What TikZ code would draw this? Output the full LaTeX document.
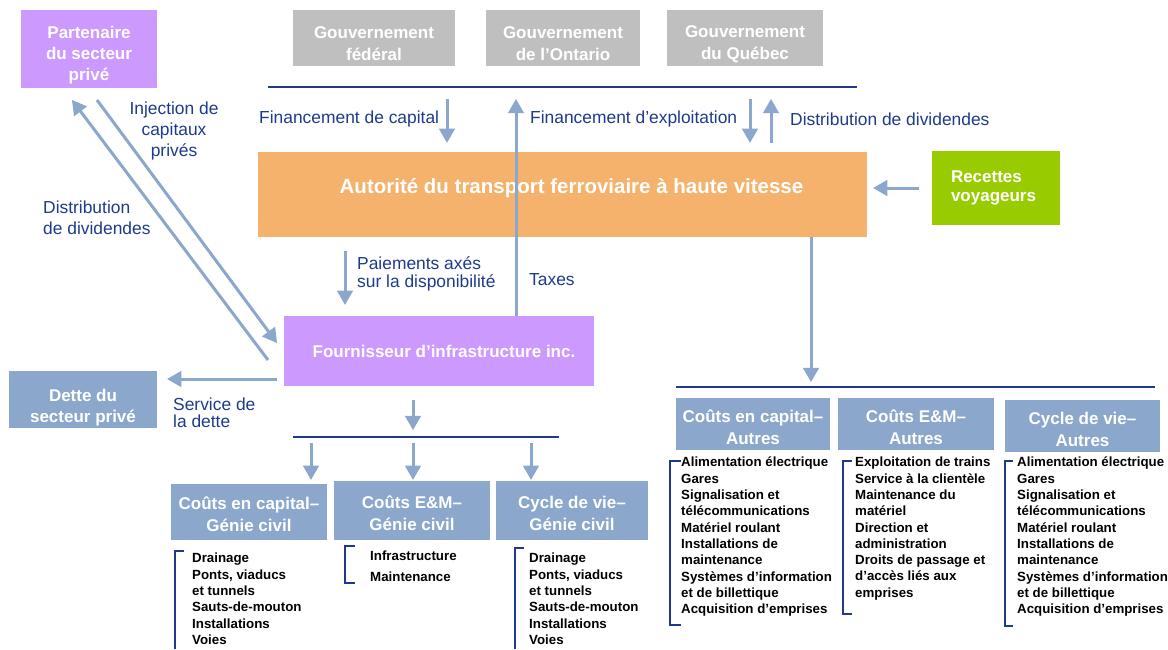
\documentclass[tikz,border=0pt]{standalone}
\usepackage{fontspec}
\setmainfont{Liberation Sans}
\usepackage{tikz}
\usetikzlibrary{arrows,calc}
\definecolor{govgray}{HTML}{BFBFBF}
\definecolor{lilac}{HTML}{CC99FF}
\definecolor{orangebox}{HTML}{F4B26C}
\definecolor{greenbox}{HTML}{99CC00}
\definecolor{steel}{HTML}{8BA7CC}
\definecolor{navy}{HTML}{1F3A8C}
\tikzset{panel/.style={inner sep=0pt}}
\tikzset{boxtext/.style={text=white,font=\bfseries\fontsize{17}{22}\selectfont,align=center,inner sep=0pt}}
\tikzset{flow/.style={draw=steel,line width=3pt,-triangle 60}}
\tikzset{lbl/.style={text=navy,font=\fontsize{17.4}{21}\selectfont,align=left,inner sep=0pt}}
\tikzset{rule/.style={draw=navy,line width=1.5pt}}
\tikzset{items/.style={font=\bfseries\fontsize{13.3}{16.3}\selectfont,align=left,inner sep=0pt,anchor=north west}}
\tikzset{brace/.style={draw=navy,line width=1.3pt}}

\begin{document}
\begin{tikzpicture}
[x=1pt, y=-1pt]
\useasboundingbox (0,0) rectangle (1168,649);

\node (part) at (89,49)[panel,fill=lilac,minimum width=136,minimum height=78,label={[boxtext,yshift=-6pt,font=\bfseries\fontsize{17}{21}\selectfont]center:Partenaire\\du secteur\\privé}]{};
\node (gf) at (374,38)[panel,fill=govgray,minimum width=162,minimum height=56,label={[boxtext,yshift=-6pt]center:Gouvernement\\fédéral}]{};
\node (go) at (563,38)[panel,fill=govgray,minimum width=154,minimum height=56,label={[boxtext,yshift=-6pt]center:Gouvernement\\de l’Ontario}]{};
\node (gq) at (745,38)[panel,fill=govgray,minimum width=156,minimum height=56,label={[boxtext,yshift=-6pt]center:Gouvernement\\du Québec}]{};
\node (aut) at (562.5,194.5)[panel,fill=orangebox,minimum width=609,minimum height=85,label={[boxtext,xshift=9pt,yshift=6pt,font=\bfseries\fontsize{20.5}{24}\selectfont]center:Autorité du transport ferroviaire à haute vitesse}]{};
\node (rec) at (996,188)[panel,fill=greenbox,minimum width=128,minimum height=74,label={[boxtext,text width=90,align=left,font=\bfseries\fontsize{17}{19}\selectfont]center:Recettes\\voyageurs}]{};
\node (four) at (439,351)[panel,fill=lilac,minimum width=310,minimum height=70,label={[boxtext,xshift=5pt]center:Fournisseur d’infrastructure inc.}]{};
\node (dette) at (83,399.5)[panel,fill=steel,minimum width=148,minimum height=57,label={[boxtext,yshift=-8.5pt,font=\bfseries\fontsize{17}{21}\selectfont]center:Dette du\\secteur privé}]{};

\node (cg1) at (249,512)[panel,fill=steel,minimum width=156,minimum height=56,label={[boxtext,yshift=-2.5pt]center:Coûts en capital–\\Génie civil}]{};
\node (cg2) at (412,510.5)[panel,fill=steel,minimum width=156,minimum height=59,label={[boxtext,yshift=-2.5pt]center:Coûts E\&M–\\Génie civil}]{};
\node (cg3) at (572,510.5)[panel,fill=steel,minimum width=152,minimum height=59,label={[boxtext,yshift=-2.5pt]center:Cycle de vie–\\Génie civil}]{};
\node (ca1) at (753,424)[panel,fill=steel,minimum width=154,minimum height=52,label={[boxtext,yshift=-3pt]center:Coûts en capital–\\Autres}]{};
\node (ca2) at (916,424)[panel,fill=steel,minimum width=156,minimum height=52,label={[boxtext,yshift=-3pt]center:Coûts E\&M–\\Autres}]{};
\node (ca3) at (1082.5,426)[panel,fill=steel,minimum width=155,minimum height=52,label={[boxtext,yshift=-3pt]center:Cycle de vie–\\Autres}]{};

\node (lfc) at (259,119)[lbl,anchor=west]{Financement de capital};
\node (lfe) at (530,119)[lbl,anchor=west]{Financement d’exploitation};
\node (ldd) at (790,119)[lbl,anchor=west]{Distribution de dividendes};
\node (linj) at (174,130.5)[lbl,align=center]{Injection de\\capitaux\\privés};
\node (ldp) at (43,217.5)[lbl,anchor=west]{Distribution\\de dividendes};
\node (lpay) at (357,274)[lbl,anchor=west,font=\fontsize{17.4}{18}\selectfont]{Paiements axés\\sur la disponibilité};
\node (ltax) at (529,280)[lbl,anchor=west]{Taxes};
\node (lsd) at (173,412.5)[lbl,anchor=west,font=\fontsize{17.4}{17}\selectfont]{Service de\\la dette};

\node (icg1) at (192,553)[items]{Drainage\\Ponts, viaducs\\et tunnels\\Sauts-de-mouton\\Installations\\Voies};
\node (icg2) at (370,551)[items,font=\bfseries\fontsize{13.3}{21}\selectfont]{Infrastructure\\Maintenance};
\node (icg3) at (529,553)[items]{Drainage\\Ponts, viaducs\\et tunnels\\Sauts-de-mouton\\Installations\\Voies};
\node (ica1) at (681,457)[items]{Alimentation électrique\\Gares\\Signalisation et\\télécommunications\\Matériel roulant\\Installations de\\maintenance\\Systèmes d’information\\et de billettique\\Acquisition d’emprises};
\node (ica2) at (855,457)[items]{Exploitation de trains\\Service à la clientèle\\Maintenance du\\matériel\\Direction et\\administration\\Droits de passage et\\d’accès liés aux\\emprises};
\node (ica3) at (1017,457)[items]{Alimentation électrique\\Gares\\Signalisation et\\télécommunications\\Matériel roulant\\Installations de\\maintenance\\Systèmes d’information\\et de billettique\\Acquisition d’emprises};

\coordinate (fcap) at (447,99);
\coordinate (tx) at (516,99);
\coordinate (fexp) at (750,99);
\coordinate (ddiv) at (771,99);
\coordinate (rdown) at (811,382);
\coordinate (pay) at (345,251);
\coordinate (injs) at (97,100);
\coordinate (inje) at (277,343);
\coordinate (dds) at (268,360);
\coordinate (dde) at (72,100);
\coordinate (sd) at (277,379);
\coordinate (fdown) at (413,400);
\coordinate (b1) at (311,443);
\coordinate (b2) at (413,443);
\coordinate (b3) at (531,443);

\draw[rule] (268,87) -- (857,87);
\draw[rule] (676,387) -- (1155,387);
\draw[rule] (293,437) -- (559,437);

\draw[flow,shorten >=9pt] (fcap) -- (fcap |- aut.north);
\draw[flow] (four.north -| tx) -- (tx);
\draw[flow,shorten >=9pt] (fexp) -- (fexp |- aut.north);
\draw[flow,shorten <=9pt] (ddiv |- aut.north) -- (ddiv);
\draw[flow,shorten <=13pt,shorten >=6pt] (rec.west) -- (rec.west -| aut.east);
\draw[flow] (aut.south -| rdown) -- (rdown);
\draw[flow,shorten >=11pt] (pay) -- (pay |- four.north);
\draw[flow] (injs) -- (inje);
\draw[flow] (dds) -- (dde);
\draw[flow,shorten >=10pt] (sd) -- (sd -| dette.east);
\draw[flow,shorten >=7pt] (fdown) -- (fdown |- 0,437);
\draw[flow,shorten >=4pt] (b1) -- (b1 |- cg1.north);
\draw[flow,shorten >=1pt] (b2) -- (b2 |- cg2.north);
\draw[flow,shorten >=1pt] (b3) -- (b3 |- cg3.north);

\draw[brace] (184,551) -- (175,551) -- (175,649);
\draw[brace] (355,546) -- (345,546) -- (345,583) -- (355,583);
\draw[brace] (524,548) -- (515,548) -- (515,649);
\draw[brace] (681,461) -- (670,461) -- (670,625) -- (681,625);
\draw[brace] (852,461) -- (843,461) -- (843,614) -- (852,614);
\draw[brace] (1013,461) -- (1005,461) -- (1005,626) -- (1013,626);
\end{tikzpicture}
\end{document}
